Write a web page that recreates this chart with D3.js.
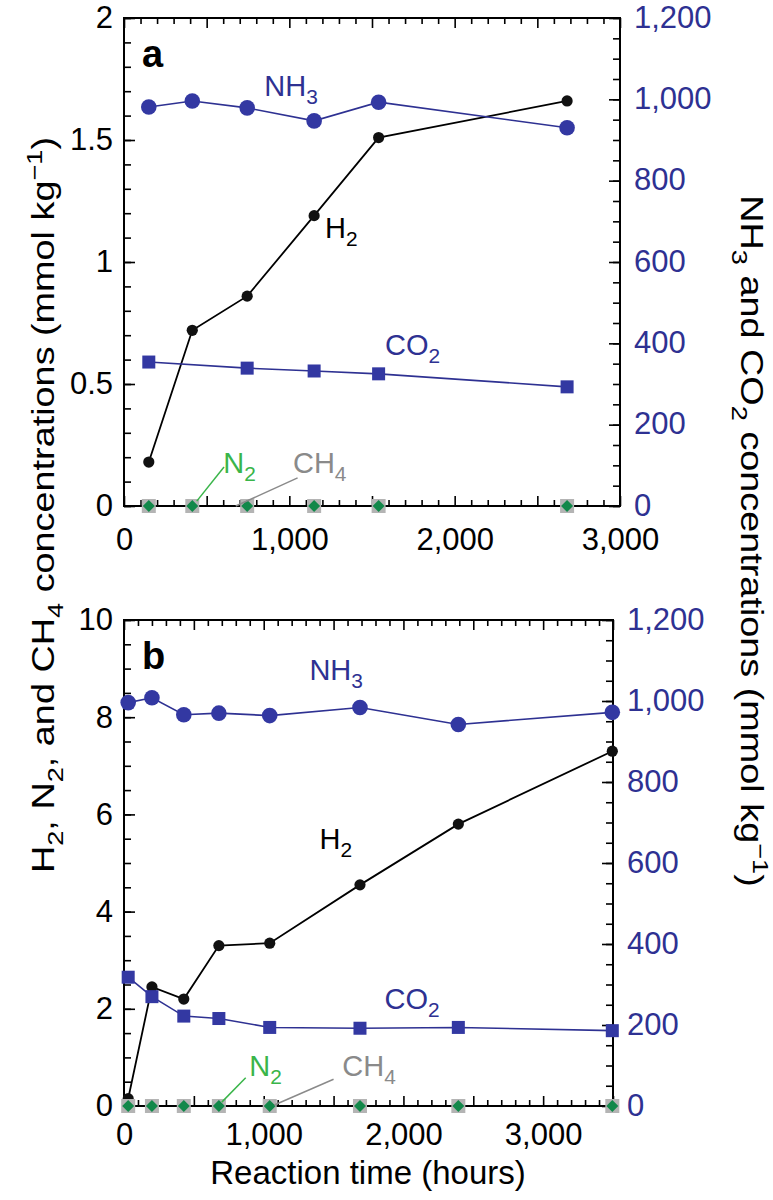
<!DOCTYPE html>
<html><head><meta charset="utf-8">
<script src="https://cdn.jsdelivr.net/npm/d3@7"></script>
<style>
body{margin:0;background:#fff}
svg{display:block}
text{font-family:"Liberation Sans", Arial, Helvetica, sans-serif}
</style>
</head><body>
<svg id="chart" width="773" height="1200"></svg>
<script>
// ---------- data: panel a ----------
const hoursA = [150, 413, 745, 1150, 1540, 2680];
const h2A = [0.18, 0.72, 0.86, 1.19, 1.51, 1.66];
const nh3A = [981, 996, 979, 947, 993, 930];
const co2HoursA = [150, 745, 1150, 1540, 2680];
const co2A = [354, 339, 332, 325, 293];
const n2A = [0, 0, 0, 0, 0, 0];
const ch4A = [0, 0, 0, 0, 0, 0];

// ---------- data: panel b ----------
const hoursB = [30, 200, 428, 679, 1043, 1689, 2393, 3495];
const h2B = [0.15, 2.45, 2.2, 3.3, 3.35, 4.55, 5.8, 7.3];
const nh3B = [996, 1008, 966, 970, 964, 984, 942, 972];
const co2B = [318, 270, 222, 216, 194, 192, 194, 186];
const n2B = [0, 0, 0, 0, 0, 0, 0, 0];
const ch4B = [0, 0, 0, 0, 0, 0, 0, 0];

// ---------- tick labels ----------
const xTickLabelsA = [0, 1000, 2000, 3000];
const xTickLabelsB = [0, 1000, 2000, 3000];
const yLeftTicksA = [0, 0.5, 1, 1.5, 2];
const yLeftTicksB = [0, 2, 4, 6, 8, 10];
const yRightTicks = [0, 200, 400, 600, 800, 1000, 1200];

const NAVY = "#2e3192", GREEN_T = "#3ab54a", GREEN_M = "#12884a", GRAY_T = "#8a8a8a", GRAY_M = "#b4b4b4";
const FS = 31;

const svg = d3.select("#chart");

function richText(g, x, y, parts, opts) {
  const t = g.append("text").attr("x", x).attr("y", y)
    .attr("fill", opts.color || "#000").attr("font-size", opts.size)
    .attr("text-anchor", opts.anchor || "start");
  if (opts.transform) t.attr("transform", opts.transform);
  let shift = 0;
  parts.forEach(([s, kind]) => {
    const ts = t.append("tspan").text(s);
    let target = 0;
    if (kind === "sub") { target = 0.28 * opts.size; ts.attr("font-size", opts.size * 0.72); }
    else if (kind === "sup") { target = -0.38 * opts.size; ts.attr("font-size", opts.size * 0.72); }
    if (target !== shift) { ts.attr("dy", target - shift); shift = target; }
  });
  return t;
}

function drawPanel(cfg) {
  const g = svg.append("g");
  const x = d3.scaleLinear().domain([0, cfg.xMax]).range([cfg.left, cfg.right]);
  const yL = d3.scaleLinear().domain([0, cfg.yMax]).range([cfg.bottom, cfg.top]);
  const yR = d3.scaleLinear().domain([0, 1200]).range([cfg.bottom, cfg.top]);

  function tickAxis(axis, transform, len) {
    const a = g.append("g").attr("transform", transform)
      .call(axis.tickSize(-len).tickFormat(""));
    a.select(".domain").remove();
    a.selectAll("line").attr("stroke", "#000").attr("stroke-width", 1.6);
    return a;
  }
  const xMinor = d3.range(0, cfg.xMax + 1, 100).filter(v => v % 500 !== 0);
  const xMajor = d3.range(0, cfg.xMax + 1, 500);
  tickAxis(d3.axisBottom(x).tickValues(xMinor), `translate(0,${cfg.bottom})`, 6);
  tickAxis(d3.axisBottom(x).tickValues(xMajor), `translate(0,${cfg.bottom})`, 10);
  tickAxis(d3.axisTop(x).tickValues(xMinor), `translate(0,${cfg.top})`, 6);
  tickAxis(d3.axisTop(x).tickValues(xMajor), `translate(0,${cfg.top})`, 10);

  const lMinor = d3.range(0, cfg.yMax * 10 + 0.5, cfg.yMinor * 10).map(v => v / 10);
  tickAxis(d3.axisLeft(yL).tickValues(lMinor), `translate(${cfg.left},0)`, 7);
  tickAxis(d3.axisLeft(yL).tickValues(cfg.yLabels), `translate(${cfg.left},0)`, 11);
  tickAxis(d3.axisRight(yR).tickValues(d3.range(0, 1201, 50)), `translate(${cfg.right},0)`, 7);
  tickAxis(d3.axisRight(yR).tickValues(yRightTicks), `translate(${cfg.right},0)`, 11);

  // labels via axes
  const bx = g.append("g").attr("transform", `translate(0,${cfg.bottom})`)
    .call(d3.axisBottom(x).tickValues(cfg.xLabels).tickSize(0).tickPadding(cfg.xPad).tickFormat(d3.format(",")));
  bx.select(".domain").remove();
  bx.selectAll("text").attr("font-size", FS).attr("fill", "#000").attr("font-family", null);

  const ly = g.append("g").attr("transform", `translate(${cfg.left},0)`)
    .call(d3.axisLeft(yL).tickValues(cfg.yLabels).tickSize(0).tickPadding(11).tickFormat(d3.format("")));
  ly.select(".domain").remove();
  ly.selectAll("text").attr("font-size", FS).attr("fill", "#000").attr("font-family", null);

  const ry = g.append("g").attr("transform", `translate(${cfg.right},0)`)
    .call(d3.axisRight(yR).tickValues(yRightTicks).tickSize(0).tickPadding(14).tickFormat(d3.format(",")));
  ry.select(".domain").remove();
  ry.selectAll("text").attr("font-size", FS).attr("fill", NAVY).attr("font-family", null).attr("dy", "0.3em");

  // frame
  g.append("rect").attr("x", cfg.left).attr("y", cfg.top)
    .attr("width", cfg.right - cfg.left).attr("height", cfg.bottom - cfg.top)
    .attr("fill", "none").attr("stroke", "#000").attr("stroke-width", 2);

  // H2
  const hrs = cfg.hours;
  g.append("path").datum(cfg.h2)
    .attr("d", d3.line().x((d, i) => x(hrs[i])).y(d => yL(d)))
    .attr("fill", "none").attr("stroke", "#000").attr("stroke-width", 1.8);
  g.selectAll(null).data(cfg.h2).join("circle")
    .attr("cx", (d, i) => x(hrs[i])).attr("cy", d => yL(d)).attr("r", 5.6).attr("fill", "#111");

  // NH3
  g.append("path").datum(cfg.nh3)
    .attr("d", d3.line().x((d, i) => x(hrs[i])).y(d => yR(d)))
    .attr("fill", "none").attr("stroke", NAVY).attr("stroke-width", 1.6);
  g.selectAll(null).data(cfg.nh3).join("circle")
    .attr("cx", (d, i) => x(hrs[i])).attr("cy", d => yR(d)).attr("r", 7.8).attr("fill", "#3338a2");

  // CO2
  const ch = cfg.co2Hours;
  g.append("path").datum(cfg.co2)
    .attr("d", d3.line().x((d, i) => x(ch[i])).y(d => yR(d)))
    .attr("fill", "none").attr("stroke", NAVY).attr("stroke-width", 1.6);
  g.selectAll(null).data(cfg.co2).join("rect")
    .attr("x", (d, i) => x(ch[i]) - 6.5).attr("y", d => yR(d) - 6.5)
    .attr("width", 13).attr("height", 13).attr("fill", "#3338a2");

  // CH4 squares and N2 diamonds
  g.selectAll(null).data(cfg.ch4).join("rect")
    .attr("x", (d, i) => x(hrs[i]) - 7).attr("y", d => yL(d) - 7)
    .attr("width", 14).attr("height", 14).attr("fill", GRAY_M);
  const dia = d3.symbol().type(d3.symbolSquare).size(72);
  g.selectAll(null).data(cfg.n2).join("path")
    .attr("d", dia)
    .attr("transform", (d, i) => `translate(${x(hrs[i])},${yL(d)}) rotate(45)`)
    .attr("fill", GREEN_M);

  // leader lines
  cfg.leaders.forEach(l => {
    g.append("line").attr("x1", x(l.h1)).attr("y1", yL(l.v1)).attr("x2", x(l.h2)).attr("y2", yL(l.v2))
      .attr("stroke", l.color).attr("stroke-width", 1.5);
  });
  // series labels
  cfg.labels.forEach(l => {
    const yy = l.axis === "R" ? yR(l.v) : yL(l.v);
    richText(g, x(l.h), yy, l.parts, {color: l.color, size: l.size});
  });
  // panel letter
  g.append("text").attr("x", cfg.left + 18).attr("y", cfg.top + 49).text(cfg.letter)
    .attr("font-size", 38).attr("font-weight", "bold").attr("fill", "#000");
}

drawPanel({
  letter: "a", left: 124, right: 620, top: 18, bottom: 506, xPad: 22,
  xMax: 3000, yMax: 2, yMinor: 0.1, yLabels: yLeftTicksA, xLabels: xTickLabelsA,
  hours: hoursA, h2: h2A, nh3: nh3A, co2Hours: co2HoursA, co2: co2A, n2: n2A, ch4: ch4A,
  leaders: [
    {h1: 605, v1: 0.16, h2: 440, v2: 0.02, color: GREEN_T},
    {h1: 1050, v1: 0.115, h2: 676, v2: 0, color: GRAY_T}
  ],
  labels: [
    {h: 849, v: 1008, axis: "R", parts: [["NH", ""], ["3", "sub"]], color: NAVY, size: 29},
    {h: 1216, v: 1.1, axis: "L", parts: [["H", ""], ["2", "sub"]], color: "#000", size: 29},
    {h: 1579, v: 371, axis: "R", parts: [["CO", ""], ["2", "sub"]], color: NAVY, size: 29},
    {h: 600, v: 0.135, axis: "L", parts: [["N", ""], ["2", "sub"]], color: GREEN_T, size: 29},
    {h: 1022, v: 0.135, axis: "L", parts: [["CH", ""], ["4", "sub"]], color: GRAY_T, size: 29}
  ]
});

drawPanel({
  letter: "b", left: 124, right: 613, top: 620, bottom: 1106, xPad: 17,
  xMax: 3500, yMax: 10, yMinor: 0.5, yLabels: yLeftTicksB, xLabels: xTickLabelsB,
  hours: hoursB, h2: h2B, nh3: nh3B, co2Hours: hoursB, co2: co2B, n2: n2B, ch4: ch4B,
  leaders: [
    {h1: 871, v1: 0.58, h2: 700, v2: 0.08, color: GREEN_T},
    {h1: 1500, v1: 0.55, h2: 1076, v2: 0.02, color: GRAY_T}
  ],
  labels: [
    {h: 1327, v: 1052, axis: "R", parts: [["NH", ""], ["3", "sub"]], color: NAVY, size: 29},
    {h: 1399, v: 5.29, axis: "L", parts: [["H", ""], ["2", "sub"]], color: "#000", size: 29},
    {h: 1865, v: 240, axis: "R", parts: [["CO", ""], ["2", "sub"]], color: NAVY, size: 29},
    {h: 897, v: 0.62, axis: "L", parts: [["N", ""], ["2", "sub"]], color: GREEN_T, size: 29},
    {h: 1563, v: 0.62, axis: "L", parts: [["CH", ""], ["4", "sub"]], color: GRAY_T, size: 29}
  ]
});

// axis titles
richText(svg, 368, 1184, [["Reaction time (hours)", ""]], {size: 33, anchor: "middle"});
richText(svg, 0, 0,
  [["H", ""], ["2", "sub"], [", N", ""], ["2", "sub"], [", and CH", ""], ["4", "sub"],
   [" concentrations (mmol kg", ""], ["\u22121", "sup"], [")", ""]],
  {size: 31, anchor: "middle", transform: "translate(54,505) scale(1,1.22) rotate(-90)"});
richText(svg, 0, 0,
  [["NH", ""], ["3", "sub"], [" and CO", ""], ["2", "sub"],
   [" concentrations (mmol kg", ""], ["\u22121", "sup"], [")", ""]],
  {size: 31, anchor: "middle", transform: "translate(741,541) scale(1,1.22) rotate(90)"});
</script>
</body></html>
